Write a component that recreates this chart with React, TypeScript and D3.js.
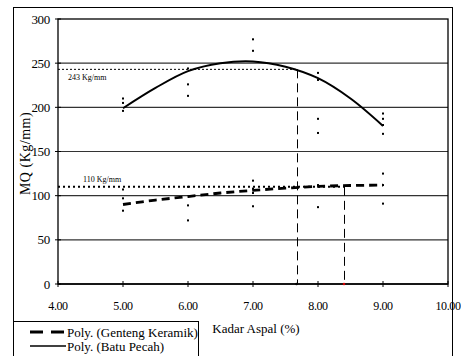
import * as d3 from 'd3'

const xTicks = [4, 5, 6, 7, 8, 9, 10]
const yTicks = [0, 50, 100, 150, 200, 250, 300]

// scatter points
const batuX = [5, 5, 5, 6, 6, 6, 7, 7, 8, 8, 8, 8, 9, 9, 9, 9]
const batuY = [210, 205, 196, 244, 226, 213, 277, 264, 239, 231, 187, 171, 193, 187, 180, 170]
const gentengX = [5, 5, 5, 6, 6, 6, 7, 7, 7, 7, 8, 8, 9, 9, 9]
const gentengY = [107, 97, 83, 110, 89, 72, 117, 108, 103, 88, 112, 87, 125, 112, 91]

// polynomial trendlines
const trendX = [5, 5.5, 6, 6.5, 7, 7.5, 8, 8.5, 9]
const batuTrend = [199, 222, 241, 250, 252, 246, 233, 210, 179]
const gentengTrend = [90, 95, 99, 103, 106, 108.5, 110.5, 111.5, 112]

// reference lines
const refValues = [243, 110]
const refX = [7.67, 8.4]
const refLabels = ['243 Kg/mm', '110 Kg/mm']

const W = 461
const H = 356
const m = { left: 58, right: 448, top: 19, bottom: 284 }
const font = "'Liberation Serif', 'Times New Roman', serif"

export default function App() {
    const x = d3.scaleLinear().domain([4, 10]).range([m.left, m.right])
    const y = d3.scaleLinear().domain([0, 300]).range([m.bottom, m.top])

    const line = d3
        .line<[number, number]>()
        .x((d) => x(d[0]))
        .y((d) => y(d[1]))
        .curve(d3.curveCatmullRom)

    const batuPath = line(trendX.map((v, i) => [v, batuTrend[i]]))!
    const gentengPath = line(trendX.map((v, i) => [v, gentengTrend[i]]))!

    return (
        <svg
            width={W}
            height={H}
            style={{ position: 'absolute', left: 0, top: 0, background: 'white', fontFamily: font }}
        >
            <rect x={13.5} y={7.5} width={439} height={360} fill="none" stroke="#000" />

            {/* gridlines */}
            {yTicks.slice(1, -1).map((t) => (
                <line key={t} x1={m.left} x2={m.right} y1={y(t)} y2={y(t)} stroke="#333" strokeWidth={1.2} />
            ))}
            <rect
                x={m.left}
                y={m.top}
                width={m.right - m.left}
                height={m.bottom - m.top}
                fill="none"
                stroke="#000"
                strokeWidth={1.3}
            />
            <line x1={m.left} x2={m.right} y1={m.bottom} y2={m.bottom} stroke="#000" strokeWidth={1.6} />

            {/* y axis */}
            {yTicks.map((t) => (
                <g key={t}>
                    <line x1={m.left - 3} x2={m.left + 3} y1={y(t)} y2={y(t)} stroke="#000" />
                    <text x={m.left - 8} y={y(t)} dy="0.35em" textAnchor="end" fontSize={13} letterSpacing={-0.3}>
                        {t}
                    </text>
                </g>
            ))}
            {/* x axis */}
            {xTicks.map((t) => (
                <g key={t}>
                    <line x1={x(t)} x2={x(t)} y1={m.bottom - 3} y2={m.bottom + 3} stroke="#000" />
                    <text
                        x={x(t)}
                        y={m.bottom + 22}
                        dy="0.35em"
                        textAnchor="middle"
                        fontSize={12}
                        letterSpacing={-0.4}
                    >
                        {t.toFixed(2)}
                    </text>
                </g>
            ))}

            <text
                transform={`translate(25, ${(m.top + m.bottom) / 2 + 2}) rotate(-90)`}
                textAnchor="middle"
                dy="0.35em"
                fontSize={14}
                letterSpacing={0.5}
            >
                MQ (Kg/mm)
            </text>
            <text x={256} y={328} dy="0.35em" textAnchor="middle" fontSize={13}>
                Kadar Aspal (%)
            </text>

            {/* reference lines */}
            {refValues.map((v, i) => (
                <g key={v}>
                    <line
                        x1={m.left}
                        x2={x(refX[i])}
                        y1={y(v)}
                        y2={y(v)}
                        stroke="#000"
                        strokeWidth={i === 0 ? 1 : 2}
                        strokeDasharray={i === 0 ? '2,2' : '2,3'}
                    />
                    <line
                        x1={Math.round(x(refX[i])) + 0.5}
                        x2={Math.round(x(refX[i])) + 0.5}
                        y1={y(v)}
                        y2={y(0)}
                        stroke="#000"
                        strokeDasharray="9,5"
                    />
                    <text x={i === 0 ? 68 : 83} y={y(v) + (i === 0 ? 8 : -8)} dy="0.35em" fontSize={8}>
                        {refLabels[i]}
                    </text>
                </g>
            ))}
            <circle cx={x(refX[1])} cy={y(0)} r={1.3} fill="#c00" />
            <circle cx={x(refX[0])} cy={y(0)} r={1.3} fill="#000" />

            {/* trendlines */}
            <path d={batuPath} fill="none" stroke="#000" strokeWidth={2} />
            <path d={gentengPath} fill="none" stroke="#000" strokeWidth={2.8} strokeDasharray="8,5" />

            {/* scatter */}
            {batuX.map((v, i) => (
                <rect key={'b' + i} x={x(v) - 1} y={y(batuY[i]) - 1} width={2} height={2} fill="#000" />
            ))}
            {gentengX.map((v, i) => (
                <rect key={'g' + i} x={x(v) - 1} y={y(gentengY[i]) - 1} width={2} height={2} fill="#000" />
            ))}

            {/* legend */}
            <rect x={13.5} y={321.5} width={185} height={50} fill="white" stroke="#000" />
            <line x1={30} x2={66} y1={332} y2={332} stroke="#000" strokeWidth={3} strokeDasharray="13,8" />
            <text x={67} y={332} dy="0.35em" fontSize={13}>
                Poly. (Genteng Keramik)
            </text>
            <line x1={30} x2={66} y1={346} y2={346} stroke="#000" strokeWidth={1.5} />
            <text x={67} y={346} dy="0.35em" fontSize={13}>
                Poly. (Batu Pecah)
            </text>
        </svg>
    )
}
